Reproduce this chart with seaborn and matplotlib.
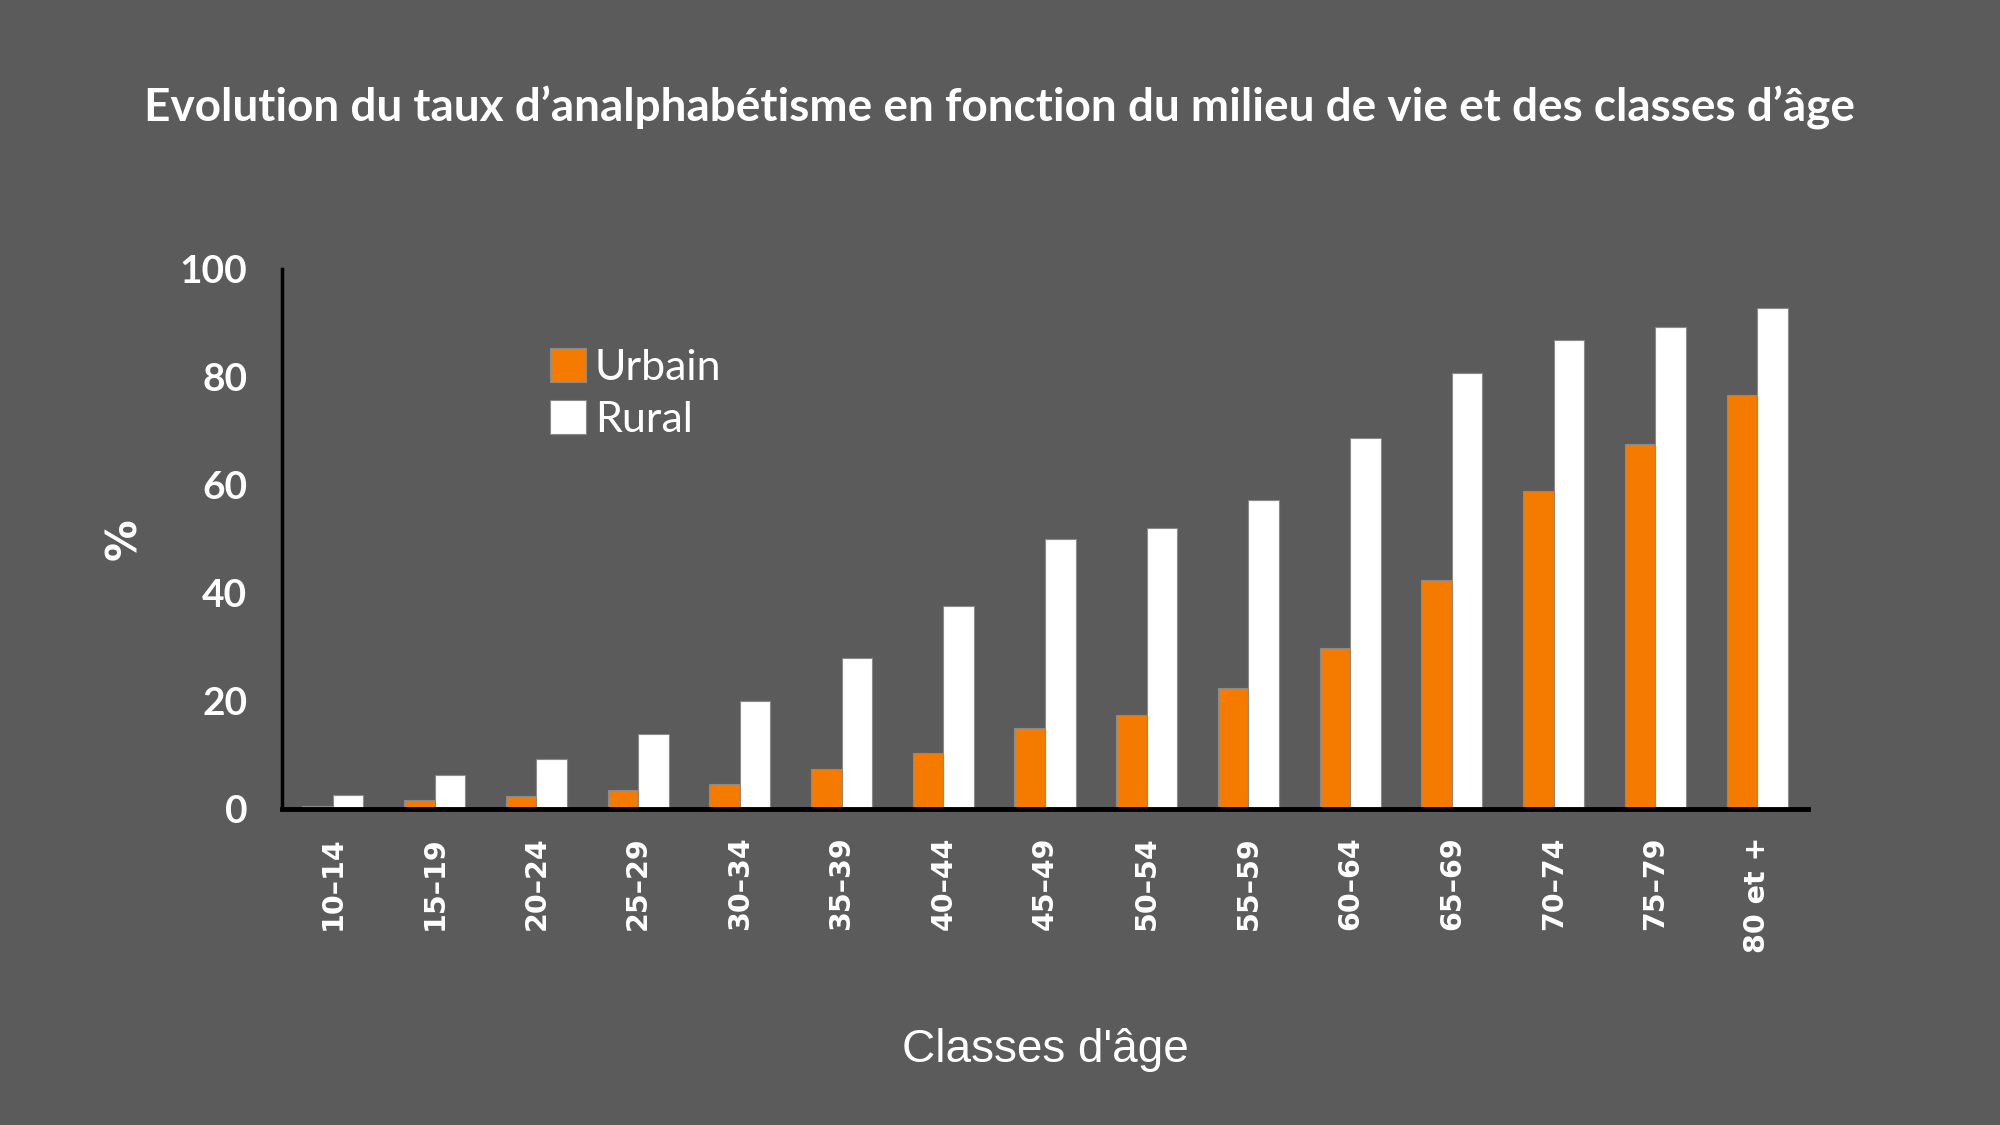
import pandas as pd
import numpy as np
import matplotlib.pyplot as plt
import seaborn as sns

# données
classes = ["10\u201314", "15\u201319", "20\u201324", "25\u201329", "30\u201334", "35\u201339",
           "40\u201344", "45\u201349", "50\u201354", "55\u201359", "60\u201364", "65\u201369",
           "70\u201374", "75\u201379", "80 et +"]
urbain = [0.5, 1.6, 2.3, 3.5, 4.6, 7.4, 10.3, 15.0, 17.4, 22.3, 29.8, 42.4, 58.8, 67.5, 76.6]
rural = [2.6, 6.3, 9.3, 13.8, 20.0, 27.9, 37.6, 49.9, 52.0, 57.2, 68.6, 80.8, 86.9, 89.2, 92.8]
milieux = ["Urbain", "Rural"]

df = pd.DataFrame({
    "classe": classes * 2,
    "taux": urbain + rural,
    "milieu": ["Urbain"] * len(classes) + ["Rural"] * len(classes),
})

bg = "#5b5b5b"
orange = "#f57a00"

sns.set_style("white")
plt.rcParams['font.family'] = ['Lato', 'DejaVu Sans']

fig = plt.figure(figsize=(20, 11.25), dpi=100, facecolor=bg)
ax = fig.add_axes([0.141, 0.281, 0.763, 0.480])
ax.set_facecolor(bg)

sns.barplot(data=df, x="classe", y="taux", hue="milieu", hue_order=milieux,
            order=classes, palette=[orange, "white"], width=0.6,
            edgecolor="#8a8a8a", linewidth=0.8, saturation=1, ax=ax)

ax.set_xlim(-0.5, 14.5)
ax.set_ylim(0, 100)
ax.set_yticks([0, 20, 40, 60, 80, 100])

# graduations entre les classes
ax.set_xticks(np.arange(0.5, 14.5, 1), minor=True)
ax.tick_params(axis="x", which="major", length=0, pad=20, labelsize=20.5,
               labelcolor="white", rotation=90)
ax.tick_params(axis="x", which="minor", direction="in", length=10, width=1.5, color="black")
ax.tick_params(axis="y", direction="in", length=9, width=1.5, color="black",
               pad=25, labelsize=28, labelcolor="white")
for lab in ax.get_yticklabels():
    lab.set_fontweight("bold")
for lab in ax.get_xticklabels():
    lab.set_fontweight("bold")
    lab.set_family(["DejaVu Sans"])

for s in ["top", "right"]:
    ax.spines[s].set_visible(False)
ax.spines["left"].set_color("black")
ax.spines["left"].set_linewidth(2.5)
ax.spines["bottom"].set_color("black")
ax.spines["bottom"].set_linewidth(3.5)

ax.set_xlabel("Classes d'âge", fontsize=33, color="white", labelpad=54,
              family=["Liberation Sans", "DejaVu Sans"])
ax.set_ylabel("%", fontsize=30, color="white", fontweight="bold", labelpad=25,
              family=["DejaVu Sans"])

leg = ax.legend(loc="upper left", bbox_to_anchor=(0.15, 0.925), frameon=False,
                fontsize=31, labelcolor="white", handlelength=0.85, handleheight=0.85,
                handletextpad=0.2, labelspacing=0.3)

fig.suptitle("Evolution du taux d\u2019analphabétisme en fonction du milieu de vie et des classes d\u2019âge",
             x=0.5, y=0.924, fontsize=33, fontweight="bold", color="white")

plt.savefig("out.png", dpi=100, facecolor=bg)
